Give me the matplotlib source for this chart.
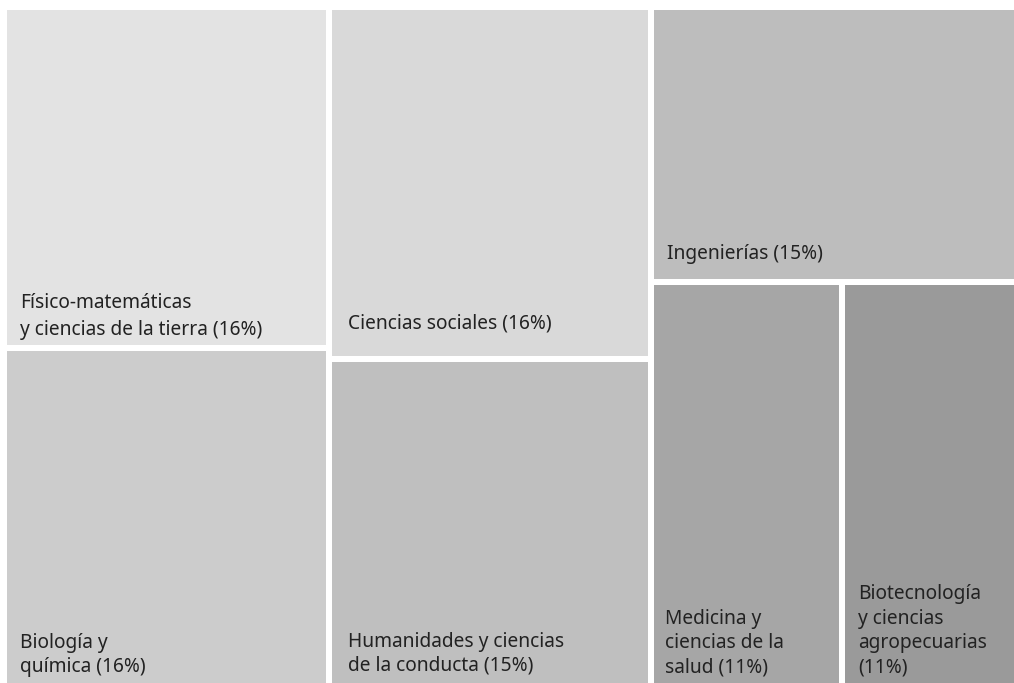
import matplotlib
matplotlib.use("Agg")
import matplotlib.pyplot as plt
from matplotlib.patches import Rectangle

# ---- data ----
labels = [
    "Físico-matemáticas\ny ciencias de la tierra (16%)",
    "Biología y\nquímica (16%)",
    "Ciencias sociales (16%)",
    "Humanidades y ciencias\nde la conducta (15%)",
    "Ingenierías (15%)",
    "Medicina y\nciencias de la\nsalud (11%)",
    "Biotecnología\ny ciencias\nagropecuarias\n(11%)",
]
values = [16.13, 16.00, 16.45, 15.30, 14.63, 11.22, 10.28]
# column grouping of the treemap (indices into values)
columns = [[0, 1], [2, 3], [4, [5, 6]]]

# ---- style ----
colors = ["#e3e3e3", "#cccccc", "#d9d9d9", "#bfbfbf", "#bdbdbd", "#a6a6a6", "#9a9a9a"]
label_offsets = [10, 11, 27, 12, 20, 11, 11]  # baseline distance above cell bottom (px)
label_pad = [13, 13, 16, 16, 13, 11, 13]
line_sp = [1.45, 1.28, 1.28, 1.28, 1.28, 1.28, 1.28]
GAP = 6
X0, Y0, W, H = 4, 7, 1013, 679

fig = plt.figure(figsize=(10.14, 6.83), dpi=100)
ax = fig.add_axes([0, 0, 1, 1])
ax.set_xlim(0, 1014)
ax.set_ylim(683, 0)
ax.axis("off")

total = sum(values)

def val(item):
    if isinstance(item, list):
        return sum(values[i] for i in item)
    return values[item]

cells = {}
x = X0
for col in columns:
    cw = W * sum(val(it) for it in col) / total
    csum = sum(val(it) for it in col)
    y = Y0
    for it in col:
        ch = H * val(it) / csum
        if isinstance(it, list):
            xx = x
            for j in it:
                w = cw * values[j] / val(it)
                cells[j] = (xx, y, w, ch)
                xx += w
        else:
            cells[it] = (x, y, cw, ch)
        y += ch
    x += cw

for i, (cx, cy, cw, ch) in cells.items():
    rx, ry = cx + GAP / 2, cy + GAP / 2
    rw, rh = cw - GAP, ch - GAP
    ax.add_patch(Rectangle((rx, ry), rw, rh, facecolor=colors[i], edgecolor="none"))
    ax.text(rx + label_pad[i], ry + rh - label_offsets[i], labels[i], ha="left", va="baseline",
            fontsize=13.8, family=["Noto Sans", "DejaVu Sans"], color="#222222",
            linespacing=line_sp[i])

fig.savefig("out.png", dpi=100)
